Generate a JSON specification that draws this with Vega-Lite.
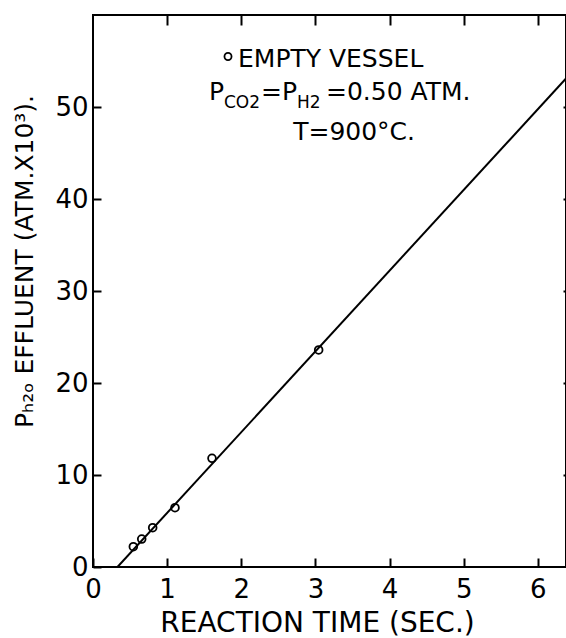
{
  "$schema": "https://vega.github.io/schema/vega-lite/v6.json",
  "width": 473,
  "height": 552,
  "autosize": "none",
  "padding": {"left": 93, "top": 15, "right": 0, "bottom": 71},
  "background": "white",
  "config": {
    "font": "DejaVu Sans",
    "view": {"stroke": "black", "strokeWidth": 2},
    "axis": {"grid": false, "domain": false, "ticks": true, "tickColor": "black", "labelColor": "black", "titleColor": "black", "tickWidth": 2, "labelFont": "DejaVu Sans", "titleFont": "DejaVu Sans", "titleFontWeight": "normal", "labelFlush": false, "labelOverlap": false}
  },
  "layer": [
    {
      "data": {"values": [{"t": 0.33, "p": 0}, {"t": 6.38, "p": 53.1}]},
      "mark": {"type": "line", "color": "black", "strokeWidth": 2, "clip": true},
      "encoding": {
        "x": {"field": "t", "type": "quantitative", "scale": {"domain": [0, 6.38], "nice": false, "zero": false},
          "axis": {"orient": "bottom", "values": [0, 1, 2, 3, 4, 5, 6], "offset": -9, "tickSize": 9, "labelPadding": 9, "labelFontSize": 26,
            "title": "REACTION TIME (SEC.)", "titleFontSize": 28, "titleX": 224, "titleY": 73, "titleBaseline": "alphabetic", "titleAlign": "center"}},
        "y": {"field": "p", "type": "quantitative", "scale": {"domain": [0, 60], "nice": false, "zero": false},
          "axis": {"orient": "left", "values": [0, 10, 20, 30, 40, 50], "offset": -8, "tickSize": 8, "labelPadding": 5, "labelFontSize": 26,
            "title": "Pₕ₂ₒ EFFLUENT (ATM.X10³).", "titleFontSize": 25, "titleX": -69, "titleY": 246, "titleBaseline": "alphabetic", "titleAlign": "center", "titleAngle": -90}}
      }
    },
    {
      "data": {"values": [
        {"t": 0.544, "p": 2.21},
        {"t": 0.657, "p": 3.04},
        {"t": 0.805, "p": 4.27},
        {"t": 1.106, "p": 6.45},
        {"t": 1.605, "p": 11.82},
        {"t": 3.044, "p": 23.59}
      ]},
      "mark": {"type": "point", "shape": "circle", "filled": false, "color": "black", "strokeWidth": 1.8, "size": 60, "opacity": 1},
      "encoding": {
        "x": {"field": "t", "type": "quantitative", "axis": {"orient": "top", "values": [1, 2, 3, 4, 5, 6], "labels": false, "offset": -10, "tickSize": 10, "title": null}},
        "y": {"field": "p", "type": "quantitative", "axis": {"orient": "right", "values": [10, 20, 30, 40, 50], "labels": false, "offset": -3, "tickSize": 3, "title": null}}
      }
    },
    {
      "data": {"values": [{"x": 1.821, "y": 55.49}]},
      "mark": {"type": "point", "shape": "circle", "filled": false, "color": "black", "strokeWidth": 1.8, "size": 50, "opacity": 1},
      "encoding": {
        "x": {"field": "x", "type": "quantitative", "axis": null},
        "y": {"field": "y", "type": "quantitative", "axis": null}
      }
    },
    {
      "data": {"values": [
        {"label": "EMPTY VESSEL", "x": 1.956, "y": 54.4},
        {"label": "P", "x": 1.565, "y": 50.76},
        {"label": "=", "x": 2.266, "y": 50.76},
        {"label": "P", "x": 2.549, "y": 50.76},
        {"label": "=0.50 ATM.", "x": 3.143, "y": 50.76},
        {"label": "T=900°C.", "x": 2.7, "y": 46.41}
      ]},
      "mark": {"type": "text", "align": "left", "baseline": "alphabetic", "fontSize": 25, "color": "black", "font": "DejaVu Sans"},
      "encoding": {
        "x": {"field": "x", "type": "quantitative", "axis": null},
        "y": {"field": "y", "type": "quantitative", "axis": null},
        "text": {"field": "label"}
      }
    },
    {
      "data": {"values": [
        {"label": "CO2", "x": 1.767, "y": 49.89},
        {"label": "H2", "x": 2.751, "y": 49.89}
      ]},
      "mark": {"type": "text", "align": "left", "baseline": "alphabetic", "fontSize": 17, "color": "black", "font": "DejaVu Sans"},
      "encoding": {
        "x": {"field": "x", "type": "quantitative", "axis": null},
        "y": {"field": "y", "type": "quantitative", "axis": null},
        "text": {"field": "label"}
      }
    }
  ]
}
